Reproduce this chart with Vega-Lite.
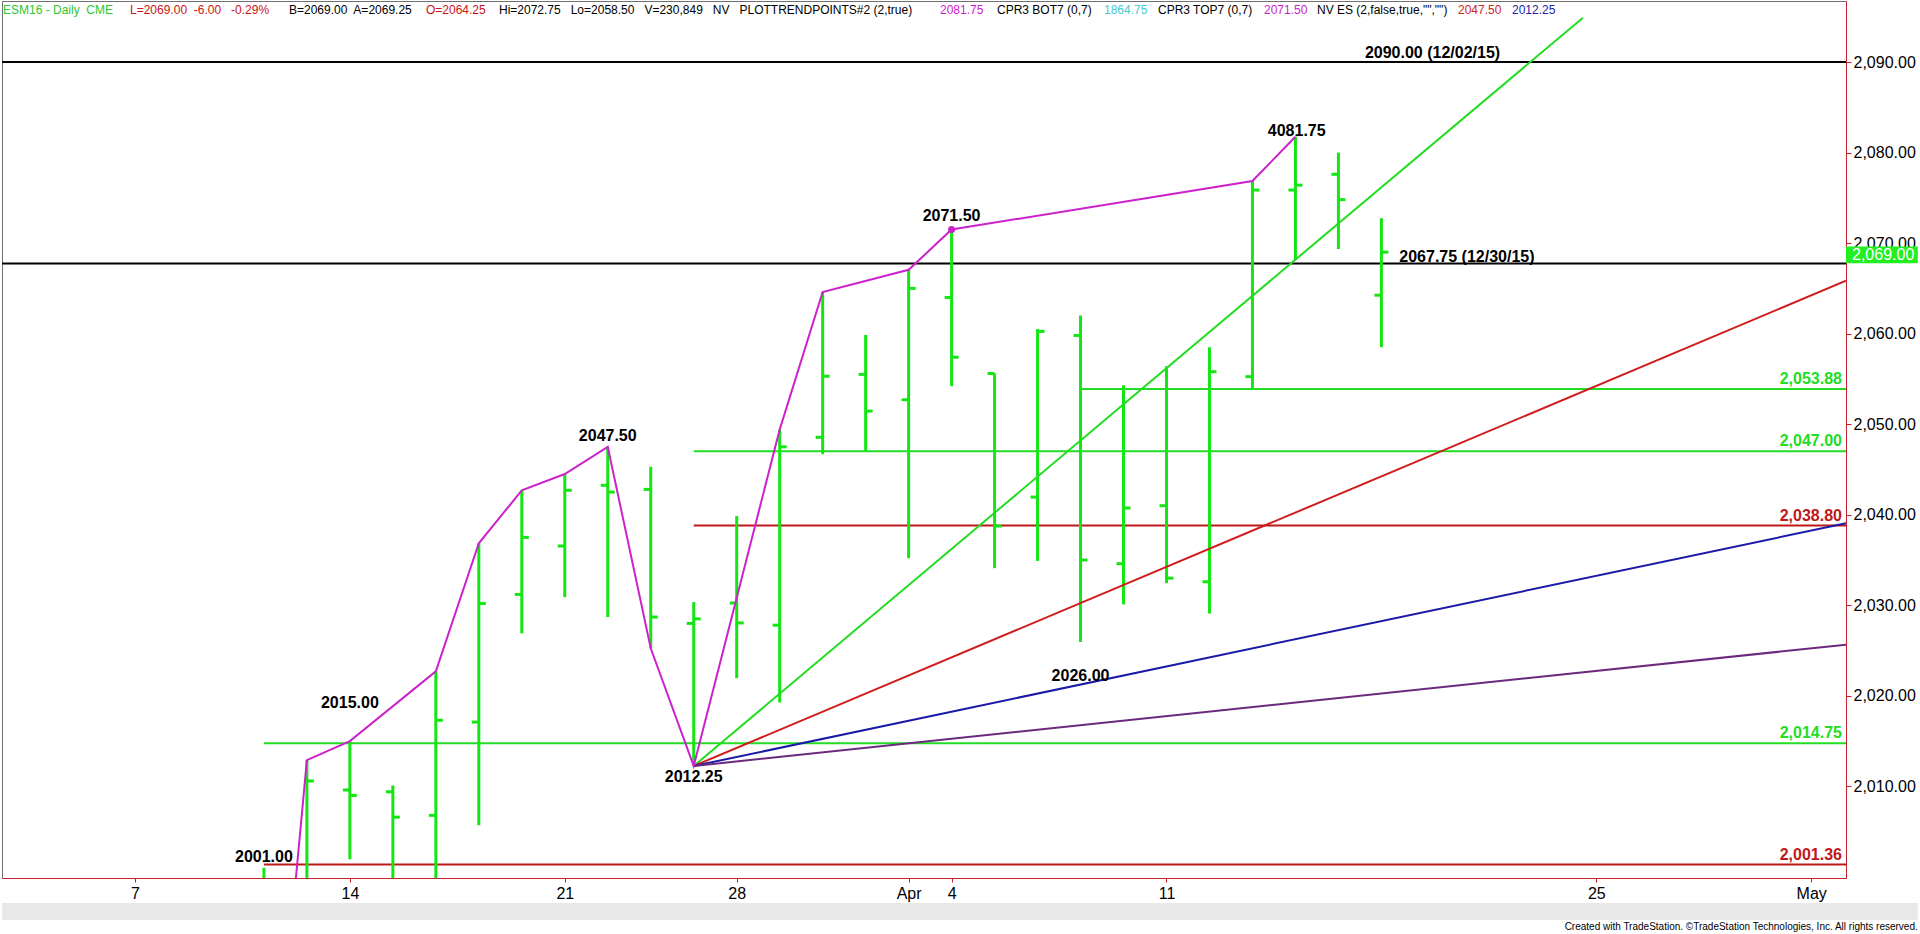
{
  "$schema": "https://vega.github.io/schema/vega-lite/v6.json",
  "width": 1844,
  "height": 877,
  "autosize": {"type": "none"},
  "padding": {"left": 2, "top": 1, "right": 74, "bottom": 56},
  "background": "white",
  "config": {
    "view": {"stroke": "#707070", "strokeWidth": 1},
    "font": "Liberation Sans",
    "axis": {"grid": false, "title": null, "zindex": 0}
  },
  "title": {
    "text": "Created with TradeStation. ©TradeStation Technologies, Inc. All rights reserved.",
    "orient": "bottom",
    "anchor": "end",
    "frame": "bounds",
    "fontSize": 10,
    "fontWeight": "normal",
    "font": "Liberation Sans",
    "color": "#000000",
    "offset": 2
  },
  "datasets": {
    "bars": [
      {"i": 3, "date": "2016-03-10", "open": 1983, "high": 2001.0, "low": 1962, "close": 1987},
      {"i": 4, "date": "2016-03-11", "open": 1992, "high": 2012.9, "low": 1988, "close": 2010.6},
      {"i": 5, "date": "2016-03-14", "open": 2009.6, "high": 2015.0, "low": 2001.95, "close": 2009.0},
      {"i": 6, "date": "2016-03-15", "open": 2009.4, "high": 2010.1, "low": 1996.5, "close": 2006.6},
      {"i": 7, "date": "2016-03-16", "open": 2006.8, "high": 2022.7, "low": 1994.5, "close": 2017.3},
      {"i": 8, "date": "2016-03-17", "open": 2017.1, "high": 2036.85, "low": 2005.7, "close": 2030.2},
      {"i": 9, "date": "2016-03-18", "open": 2031.2, "high": 2042.7, "low": 2026.9, "close": 2037.5},
      {"i": 10, "date": "2016-03-21", "open": 2036.55, "high": 2044.5, "low": 2030.9, "close": 2042.7},
      {"i": 11, "date": "2016-03-22", "open": 2043.25, "high": 2047.5, "low": 2028.7, "close": 2042.5},
      {"i": 12, "date": "2016-03-23", "open": 2042.8, "high": 2045.3, "low": 2025.25, "close": 2028.7},
      {"i": 13, "date": "2016-03-24", "open": 2028.0, "high": 2030.35, "low": 2012.25, "close": 2028.5},
      {"i": 14, "date": "2016-03-28", "open": 2030.25, "high": 2039.85, "low": 2021.95, "close": 2028.05},
      {"i": 15, "date": "2016-03-29", "open": 2027.8, "high": 2049.4, "low": 2019.25, "close": 2047.5},
      {"i": 16, "date": "2016-03-30", "open": 2048.55, "high": 2064.6, "low": 2046.7, "close": 2055.3},
      {"i": 17, "date": "2016-03-31", "open": 2055.5, "high": 2059.85, "low": 2047.0, "close": 2051.45},
      {"i": 18, "date": "2016-04-01", "open": 2052.7, "high": 2067.05, "low": 2035.2, "close": 2065.0},
      {"i": 19, "date": "2016-04-04", "open": 2064.0, "high": 2071.5, "low": 2054.2, "close": 2057.4},
      {"i": 20, "date": "2016-04-05", "open": 2055.6, "high": 2055.6, "low": 2034.1, "close": 2038.75},
      {"i": 21, "date": "2016-04-06", "open": 2041.95, "high": 2060.5, "low": 2034.9, "close": 2060.25},
      {"i": 22, "date": "2016-04-07", "open": 2059.8, "high": 2062.0, "low": 2025.95, "close": 2035.0},
      {"i": 23, "date": "2016-04-08", "open": 2034.6, "high": 2054.3, "low": 2030.1, "close": 2040.75},
      {"i": 24, "date": "2016-04-11", "open": 2041.0, "high": 2056.4, "low": 2032.45, "close": 2033.0},
      {"i": 25, "date": "2016-04-12", "open": 2032.6, "high": 2058.5, "low": 2029.1, "close": 2055.8},
      {"i": 26, "date": "2016-04-13", "open": 2055.25, "high": 2076.86, "low": 2053.9, "close": 2075.86},
      {"i": 27, "date": "2016-04-14", "open": 2075.86, "high": 2081.75, "low": 2068.13, "close": 2076.4},
      {"i": 28, "date": "2016-04-15", "open": 2077.6, "high": 2080.0, "low": 2069.35, "close": 2074.8},
      {"i": 29, "date": "2016-04-18", "open": 2064.25, "high": 2072.75, "low": 2058.5, "close": 2069.0}
    ],
    "pivots": [
      {"i": 3, "price": 1962},
      {"i": 4, "price": 2012.9},
      {"i": 5, "price": 2015.0},
      {"i": 7, "price": 2022.7},
      {"i": 8, "price": 2036.85},
      {"i": 9, "price": 2042.7},
      {"i": 10, "price": 2044.5},
      {"i": 11, "price": 2047.5},
      {"i": 12, "price": 2025.25},
      {"i": 13, "price": 2012.25},
      {"i": 15, "price": 2049.4},
      {"i": 16, "price": 2064.6},
      {"i": 18, "price": 2067.05},
      {"i": 19, "price": 2071.5},
      {"i": 26, "price": 2076.86},
      {"i": 27, "price": 2081.75}
    ],
    "fans": [
      {"fan": "4x1", "i": 13, "price": 2012.25},
      {"fan": "4x1", "i": 33.69, "price": 2094.9},
      {"fan": "2x1", "i": 13, "price": 2012.25},
      {"fan": "2x1", "i": 39.81, "price": 2065.85},
      {"fan": "1x1", "i": 13, "price": 2012.25},
      {"fan": "1x1", "i": 39.81, "price": 2039.06},
      {"fan": "1x2", "i": 13, "price": 2012.25},
      {"fan": "1x2", "i": 39.81, "price": 2025.65}
    ],
    "levels": [
      {"price": 2090.0, "from": -3.094, "tone": "black"},
      {"price": 2067.75, "from": -3.094, "tone": "black"},
      {"price": 2053.88, "from": 22, "tone": "green"},
      {"price": 2047.0, "from": 13, "tone": "green"},
      {"price": 2038.8, "from": 13, "tone": "red"},
      {"price": 2014.75, "from": 3, "tone": "green"},
      {"price": 2001.36, "from": 3, "tone": "red"}
    ],
    "notes": [
      {"i": 3, "price": 2001.68, "note": "2001.00"},
      {"i": 5, "price": 2018.66, "note": "2015.00"},
      {"i": 11, "price": 2048.18, "note": "2047.50"},
      {"i": 13, "price": 2010.5, "note": "2012.25"},
      {"i": 22, "price": 2021.63, "note": "2026.00"},
      {"i": 19, "price": 2072.4, "note": "2071.50"},
      {"i": 27.03, "price": 2081.8, "note": "4081.75"},
      {"i": 30.19, "price": 2090.45, "note": "2090.00 (12/02/15)"},
      {"i": 30.99, "price": 2067.95, "note": "2067.75 (12/30/15)"}
    ]
  },
  "layer": [
    {
      "data": {"values": [{}]},
      "mark": {"type": "rect", "color": "#e8e8e8", "clip": false},
      "encoding": {
        "x": {"datum": -3.094, "type": "quantitative", "scale": {"domain": [-3.094, 39.81], "nice": false, "zero": false}},
        "x2": {"datum": 41.48},
        "y": {"datum": 1997.12, "type": "quantitative", "scale": {"domain": [1999.88, 2096.74], "nice": false, "zero": false}},
        "y2": {"datum": 1995.24}
      }
    },
    {
      "data": {"name": "levels"},
      "mark": {"type": "rule", "strokeWidth": 2},
      "encoding": {
        "x": {"field": "from", "type": "quantitative", "scale": {"domain": [-3.094, 39.81], "nice": false, "zero": false},
          "axis": {"values": [0, 5, 10, 14, 18, 19, 24, 34, 39],
            "labelExpr": "datum.value==0?'7':datum.value==5?'14':datum.value==10?'21':datum.value==14?'28':datum.value==18?'Apr':datum.value==19?'4':datum.value==24?'11':datum.value==34?'25':'May'",
            "domainColor": "#c8202a", "domainWidth": 1, "tickColor": "#c8202a", "tickSize": 4, "tickWidth": 1,
            "labelFontSize": 16, "labelColor": "#000000", "labelPadding": 3, "labelFont": "Liberation Sans", "zindex": 0}},
        "x2": {"value": "width"},
        "y": {"field": "price", "type": "quantitative", "scale": {"domain": [1999.88, 2096.74], "nice": false, "zero": false},
          "axis": {"orient": "right", "values": [2010, 2020, 2030, 2040, 2050, 2060, 2070, 2080, 2090], "format": ",.2f",
            "domainColor": "#c8202a", "domainWidth": 1, "tickColor": "#c8202a", "tickSize": 5, "tickWidth": 1,
            "labelFontSize": 16, "labelColor": "#000000", "labelPadding": 2, "labelFont": "Liberation Sans", "zindex": 0}},
        "color": {"field": "tone", "type": "nominal", "legend": null,
          "scale": {"domain": ["black", "green", "red", "4x1", "2x1", "1x1", "1x2"], "range": ["#000000", "#22dd22", "#c01818", "#22dd22", "#d01c1c", "#1a1aa6", "#6b2a7d"]}}
      }
    },
    {
      "data": {"name": "bars"},
      "mark": {"type": "rule", "color": "#14e614", "strokeWidth": 3, "clip": true},
      "encoding": {
        "x": {"field": "i", "type": "quantitative", "scale": {"domain": [-3.094, 39.81], "nice": false, "zero": false}},
        "y": {"field": "low", "type": "quantitative", "scale": {"domain": [1999.88, 2096.74], "nice": false, "zero": false}},
        "y2": {"field": "high"}
      }
    },
    {
      "data": {"name": "bars"},
      "mark": {"type": "tick", "orient": "horizontal", "color": "#14e614", "size": 7, "thickness": 3, "xOffset": -3.5, "opacity": 1, "clip": true},
      "encoding": {
        "x": {"field": "i", "type": "quantitative", "scale": {"domain": [-3.094, 39.81], "nice": false, "zero": false}},
        "y": {"field": "open", "type": "quantitative", "scale": {"domain": [1999.88, 2096.74], "nice": false, "zero": false}}
      }
    },
    {
      "data": {"name": "bars"},
      "mark": {"type": "tick", "orient": "horizontal", "color": "#14e614", "size": 7, "thickness": 3, "xOffset": 3.5, "opacity": 1, "clip": true},
      "encoding": {
        "x": {"field": "i", "type": "quantitative", "scale": {"domain": [-3.094, 39.81], "nice": false, "zero": false}},
        "y": {"field": "close", "type": "quantitative", "scale": {"domain": [1999.88, 2096.74], "nice": false, "zero": false}}
      }
    },
    {
      "data": {"name": "fans"},
      "mark": {"type": "line", "strokeWidth": 2, "clip": true},
      "encoding": {
        "x": {"field": "i", "type": "quantitative", "scale": {"domain": [-3.094, 39.81], "nice": false, "zero": false}},
        "y": {"field": "price", "type": "quantitative", "scale": {"domain": [1999.88, 2096.74], "nice": false, "zero": false}},
        "color": {"field": "fan", "type": "nominal", "legend": null,
          "scale": {"domain": ["black", "green", "red", "4x1", "2x1", "1x1", "1x2"], "range": ["#000000", "#22dd22", "#c01818", "#22dd22", "#d01c1c", "#1a1aa6", "#6b2a7d"]}}
      }
    },
    {
      "data": {"name": "pivots"},
      "mark": {"type": "line", "color": "#cc22cc", "strokeWidth": 2, "clip": true},
      "encoding": {
        "x": {"field": "i", "type": "quantitative", "scale": {"domain": [-3.094, 39.81], "nice": false, "zero": false}},
        "y": {"field": "price", "type": "quantitative", "scale": {"domain": [1999.88, 2096.74], "nice": false, "zero": false}}
      }
    },
    {
      "data": {"name": "pivots"},
      "transform": [{"filter": "datum.i == 19"}],
      "mark": {"type": "point", "filled": true, "color": "#cc22cc", "size": 50, "opacity": 1},
      "encoding": {
        "x": {"field": "i", "type": "quantitative", "scale": {"domain": [-3.094, 39.81], "nice": false, "zero": false}},
        "y": {"field": "price", "type": "quantitative", "scale": {"domain": [1999.88, 2096.74], "nice": false, "zero": false}}
      }
    },
    {
      "data": {"name": "levels"},
      "transform": [{"filter": "datum.tone != 'black'"}],
      "mark": {"type": "text", "align": "right", "baseline": "alphabetic", "dx": -4, "dy": -5, "fontSize": 16, "fontWeight": "bold", "font": "Liberation Sans"},
      "encoding": {
        "x": {"value": "width"},
        "y": {"field": "price", "type": "quantitative", "scale": {"domain": [1999.88, 2096.74], "nice": false, "zero": false}},
        "text": {"field": "price", "type": "quantitative", "format": ",.2f"},
        "color": {"field": "tone", "type": "nominal", "legend": null,
          "scale": {"domain": ["black", "green", "red", "4x1", "2x1", "1x1", "1x2"], "range": ["#000000", "#22dd22", "#c01818", "#22dd22", "#d01c1c", "#1a1aa6", "#6b2a7d"]}}
      }
    },
    {
      "data": {"name": "notes"},
      "mark": {"type": "text", "align": "center", "baseline": "alphabetic", "fontSize": 16, "fontWeight": "bold", "color": "#000000", "font": "Liberation Sans"},
      "encoding": {
        "x": {"field": "i", "type": "quantitative", "scale": {"domain": [-3.094, 39.81], "nice": false, "zero": false}},
        "y": {"field": "price", "type": "quantitative", "scale": {"domain": [1999.88, 2096.74], "nice": false, "zero": false}},
        "text": {"field": "note", "type": "nominal"}
      }
    },
    {
      "data": {"values": [{}]},
      "mark": {"type": "rect", "color": "#22ee22", "clip": false},
      "encoding": {
        "x": {"datum": 39.81, "type": "quantitative", "scale": {"domain": [-3.094, 39.81], "nice": false, "zero": false}},
        "x2": {"datum": 41.48},
        "y": {"datum": 2069.62, "type": "quantitative", "scale": {"domain": [1999.88, 2096.74], "nice": false, "zero": false}},
        "y2": {"datum": 2067.77}
      }
    },
    {
      "data": {"name": "bars"},
      "transform": [{"filter": "datum.i == 29"}],
      "mark": {"type": "text", "align": "left", "baseline": "middle", "dx": 6, "dy": 3, "fontSize": 16, "color": "#ffffff", "font": "Liberation Sans"},
      "encoding": {
        "x": {"datum": 39.81, "type": "quantitative", "scale": {"domain": [-3.094, 39.81], "nice": false, "zero": false}},
        "y": {"field": "close", "type": "quantitative", "scale": {"domain": [1999.88, 2096.74], "nice": false, "zero": false}},
        "text": {"field": "close", "type": "quantitative", "format": ",.2f"}
      }
    },
    {"data": {"values": [{}]},
     "mark": {"type": "text", "text": "ESM16 - Daily\u00a0 CME", "align": "left", "baseline": "alphabetic", "fontSize": 12, "color": "#2ec82e"},
     "encoding": {"x": {"datum": -3.071, "type": "quantitative"}, "y": {"datum": 2095.3, "type": "quantitative"}}},
    {"data": {"values": [{}]},
     "mark": {"type": "text", "text": "L=2069.00\u00a0 -6.00\u00a0 \u00a0-0.29%", "align": "left", "baseline": "alphabetic", "fontSize": 12, "color": "#cc1111"},
     "encoding": {"x": {"datum": -0.116, "type": "quantitative"}, "y": {"datum": 2095.3, "type": "quantitative"}}},
    {"data": {"values": [{}]},
     "mark": {"type": "text", "text": "B=2069.00\u00a0 A=2069.25", "align": "left", "baseline": "alphabetic", "fontSize": 12, "color": "#000000"},
     "encoding": {"x": {"datum": 3.583, "type": "quantitative"}, "y": {"datum": 2095.3, "type": "quantitative"}}},
    {"data": {"values": [{}]},
     "mark": {"type": "text", "text": "O=2064.25", "align": "left", "baseline": "alphabetic", "fontSize": 12, "color": "#cc1111"},
     "encoding": {"x": {"datum": 6.771, "type": "quantitative"}, "y": {"datum": 2095.3, "type": "quantitative"}}},
    {"data": {"values": [{}]},
     "mark": {"type": "text", "text": "Hi=2072.75\u00a0 \u00a0Lo=2058.50\u00a0 \u00a0V=230,849\u00a0 \u00a0NV\u00a0 \u00a0PLOTTRENDPOINTS#2 (2,true)", "align": "left", "baseline": "alphabetic", "fontSize": 12, "color": "#000000"},
     "encoding": {"x": {"datum": 8.469, "type": "quantitative"}, "y": {"datum": 2095.3, "type": "quantitative"}}},
    {"data": {"values": [{}]},
     "mark": {"type": "text", "text": "2081.75", "align": "left", "baseline": "alphabetic", "fontSize": 12, "color": "#cc22cc"},
     "encoding": {"x": {"datum": 18.73, "type": "quantitative"}, "y": {"datum": 2095.3, "type": "quantitative"}}},
    {"data": {"values": [{}]},
     "mark": {"type": "text", "text": "CPR3 BOT7 (0,7)", "align": "left", "baseline": "alphabetic", "fontSize": 12, "color": "#000000"},
     "encoding": {"x": {"datum": 20.056, "type": "quantitative"}, "y": {"datum": 2095.3, "type": "quantitative"}}},
    {"data": {"values": [{}]},
     "mark": {"type": "text", "text": "1864.75", "align": "left", "baseline": "alphabetic", "fontSize": 12, "color": "#44cccc"},
     "encoding": {"x": {"datum": 22.545, "type": "quantitative"}, "y": {"datum": 2095.3, "type": "quantitative"}}},
    {"data": {"values": [{}]},
     "mark": {"type": "text", "text": "CPR3 TOP7 (0,7)", "align": "left", "baseline": "alphabetic", "fontSize": 12, "color": "#000000"},
     "encoding": {"x": {"datum": 23.802, "type": "quantitative"}, "y": {"datum": 2095.3, "type": "quantitative"}}},
    {"data": {"values": [{}]},
     "mark": {"type": "text", "text": "2071.50", "align": "left", "baseline": "alphabetic", "fontSize": 12, "color": "#cc22cc"},
     "encoding": {"x": {"datum": 26.268, "type": "quantitative"}, "y": {"datum": 2095.3, "type": "quantitative"}}},
    {"data": {"values": [{}]},
     "mark": {"type": "text", "text": "NV ES (2,false,true,\"\",\"\")", "align": "left", "baseline": "alphabetic", "fontSize": 12, "color": "#000000"},
     "encoding": {"x": {"datum": 27.501, "type": "quantitative"}, "y": {"datum": 2095.3, "type": "quantitative"}}},
    {"data": {"values": [{}]},
     "mark": {"type": "text", "text": "2047.50", "align": "left", "baseline": "alphabetic", "fontSize": 12, "color": "#cc2222"},
     "encoding": {"x": {"datum": 30.782, "type": "quantitative"}, "y": {"datum": 2095.3, "type": "quantitative"}}},
    {"data": {"values": [{}]},
     "mark": {"type": "text", "text": "2012.25", "align": "left", "baseline": "alphabetic", "fontSize": 12, "color": "#2222aa"},
     "encoding": {"x": {"datum": 32.038, "type": "quantitative"}, "y": {"datum": 2095.3, "type": "quantitative"}}}
  ]
}
